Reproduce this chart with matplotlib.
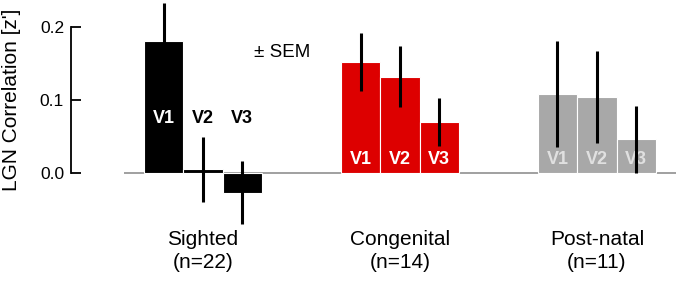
import numpy as np
import matplotlib
matplotlib.use("Agg")
import matplotlib.pyplot as plt

plt.rcParams["font.family"] = ["Liberation Sans", "DejaVu Sans"]

groups = ["Sighted", "Congenital", "Post-natal"]
group_n = [22, 14, 11]
areas = ["V1", "V2", "V3"]

sighted_mean = [0.181, 0.005, -0.027]
sighted_sem = [0.052, 0.044, 0.043]
congenital_mean = [0.152, 0.132, 0.070]
congenital_sem = [0.040, 0.042, 0.033]
postnatal_mean = [0.108, 0.104, 0.046]
postnatal_sem = [0.073, 0.063, 0.046]

means = [sighted_mean, congenital_mean, postnatal_mean]
sems = [sighted_sem, congenital_sem, postnatal_sem]
colors = ["#000000", "#dd0000", "#a8a8a8"]
# label height and colour for the V1/V2/V3 tags in each group
label_y = [0.075, 0.018, 0.018]
label_colors = [["white", "black", "black"], ["white"] * 3, ["white"] * 3]
label_alpha = [1.0, 1.0, 0.65]

fig = plt.figure(figsize=(6.8, 2.82), dpi=100)
ax = fig.add_axes([71 / 680, 52 / 282, 609 / 680, 230 / 282])

group_step = 5
ax.hlines(0, -1, 2 * group_step + 3, color="#999999", lw=1.3, zorder=1)

for g in range(len(groups)):
    x = g * group_step + np.arange(len(areas))
    ax.bar(x, means[g], width=1.0, color=colors[g], edgecolor="white",
           linewidth=0.8, zorder=2)
    ax.errorbar(x, means[g], yerr=sems[g], fmt="none", ecolor="black",
                elinewidth=2.2, capsize=0, zorder=4)
    for i, a in enumerate(areas):
        ax.text(x[i], label_y[g], a, ha="center", va="center", fontsize=13,
                fontweight="bold", color=label_colors[g][i], alpha=label_alpha[g],
                zorder=3)
    cx = x.mean()
    ax.text(cx, -0.043, groups[g], transform=ax.get_xaxis_transform(),
            ha="center", va="center", fontsize=15)
    ax.text(cx, -0.143, f"(n={group_n[g]})", transform=ax.get_xaxis_transform(),
            ha="center", va="center", fontsize=15)

ax.text(3.0, 0.165, "± SEM", ha="center", va="center", fontsize=13.5)

ax.set_xlim(-2.35, 13.11)
ax.set_ylim(-0.078, 0.237)
for s in ["top", "right", "bottom"]:
    ax.spines[s].set_visible(False)
ax.spines["left"].set_bounds(0, 0.2)
ax.spines["left"].set_linewidth(1.3)
ax.set_yticks([0.0, 0.1, 0.2], ["0.0", "0.1", "0.2"])
ax.tick_params(axis="y", direction="in", length=7, width=1.3, labelsize=12.5, pad=5)
ax.set_xticks([])
ax.set_ylabel("LGN Correlation [z']", fontsize=15)
ax.yaxis.set_label_coords(-0.082, 0.565)

fig.savefig("out.png", dpi=100)
